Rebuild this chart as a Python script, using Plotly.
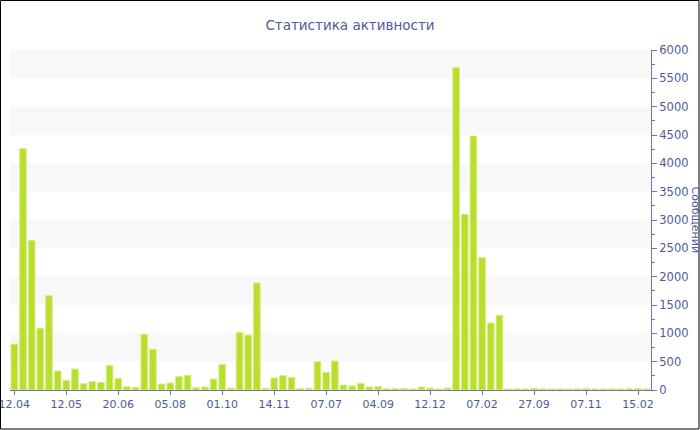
import plotly.graph_objects as go

# bar index positions (74 bars) and values
values = [
    810, 4260, 2640, 1090, 1665, 335, 170, 370, 112, 147,
    135, 435, 206, 59, 47, 982, 718, 106, 123, 235,
    259, 41, 53, 194, 453, 35, 1018, 970, 1888, 29,
    212, 253, 223, 24, 29, 500, 310, 512, 88, 71,
    118, 53, 59, 24, 24, 29, 18, 53, 35, 18,
    35, 5690, 3100, 4482, 2336, 1182, 1318, 18, 20, 18,
    32, 20, 18, 20, 18, 20, 28, 20, 18, 20,
    18, 25, 30, 20,
]
positions = list(range(len(values)))
tick_positions = [0, 6, 12, 18, 24, 30, 36, 42, 48, 54, 60, 66, 72]
tick_labels = ["12.04", "12.05", "20.06", "05.08", "01.10", "14.11", "07.07",
               "04.09", "12.12", "07.02", "27.09", "07.11", "15.02"]
band_edges = list(range(0, 6001, 500))

title_text = "Статистика активности"
yaxis_title = "Сообщений"

text_color = "#4a5b9c"
axis_color = "#6a78ad"

fig = go.Figure()
fig.add_trace(go.Bar(
    x=positions, y=values,
    marker=dict(color="#bade2e", line=dict(color="#d6ee86", width=1)),
    hoverinfo="x+y",
))

shapes = []
for i in range(1, len(band_edges) - 1, 2):
    shapes.append(dict(type="rect", xref="paper", yref="y", x0=0, x1=1,
                       y0=band_edges[i], y1=band_edges[i + 1],
                       fillcolor="#f8f8f8", line=dict(width=0), layer="below"))

L, R, T, B = 10, 49, 50, 40
W, H = 700, 430
pw, ph = W - L - R, H - T - B
shapes.append(dict(type="rect", xref="paper", yref="paper",
                   x0=(0.5 - L) / pw, x1=(699 - L) / pw,
                   y0=(H - B - 429) / ph, y1=(H - B - 0.5) / ph,
                   line=dict(color="black", width=1), fillcolor="rgba(0,0,0,0)",
                   layer="above"))

fig.update_layout(
    width=W, height=H,
    margin=dict(l=L, r=R, t=T, b=B, autoexpand=False),
    paper_bgcolor="white", plot_bgcolor="white",
    font=dict(family="DejaVu Sans", size=11, color=text_color),
    title=dict(text=title_text, x=0.5, xref="container", xanchor="center",
               y=1 - 25 / H, yanchor="middle",
               font=dict(family="DejaVu Sans", size=13.5, color=text_color)),
    bargap=0.23,
    showlegend=False,
    shapes=shapes,
    xaxis=dict(range=[-0.5, len(values) - 0.5], tickmode="array",
               tickvals=tick_positions, ticktext=tick_labels,
               showgrid=False, zeroline=False, showline=True,
               linecolor=axis_color, linewidth=1,
               ticks="outside", ticklen=4, tickcolor=axis_color,
               ticklabeloverflow="allow",
               tickfont=dict(size=11, color=text_color)),
    yaxis=dict(range=[0, 6000], dtick=500, side="right",
               showgrid=False, zeroline=False, showline=True,
               linecolor=axis_color, linewidth=1,
               ticks="outside", ticklen=5, tickcolor=axis_color,
               minor=dict(dtick=250, ticks="outside", ticklen=3, tickcolor=axis_color),
               tickfont=dict(size=11.5, color=text_color)),
    annotations=[dict(text=yaxis_title, xref="paper", yref="paper",
                      x=(687 - L) / pw, y=0.5, showarrow=False, textangle=90,
                      xanchor="left", yanchor="middle",
                      font=dict(family="DejaVu Sans", size=11, color=text_color))],
)

fig.write_html("out.html",
               config={"displayModeBar": False},
               post_script="document.body.style.margin='0';document.body.style.overflow='hidden';")
